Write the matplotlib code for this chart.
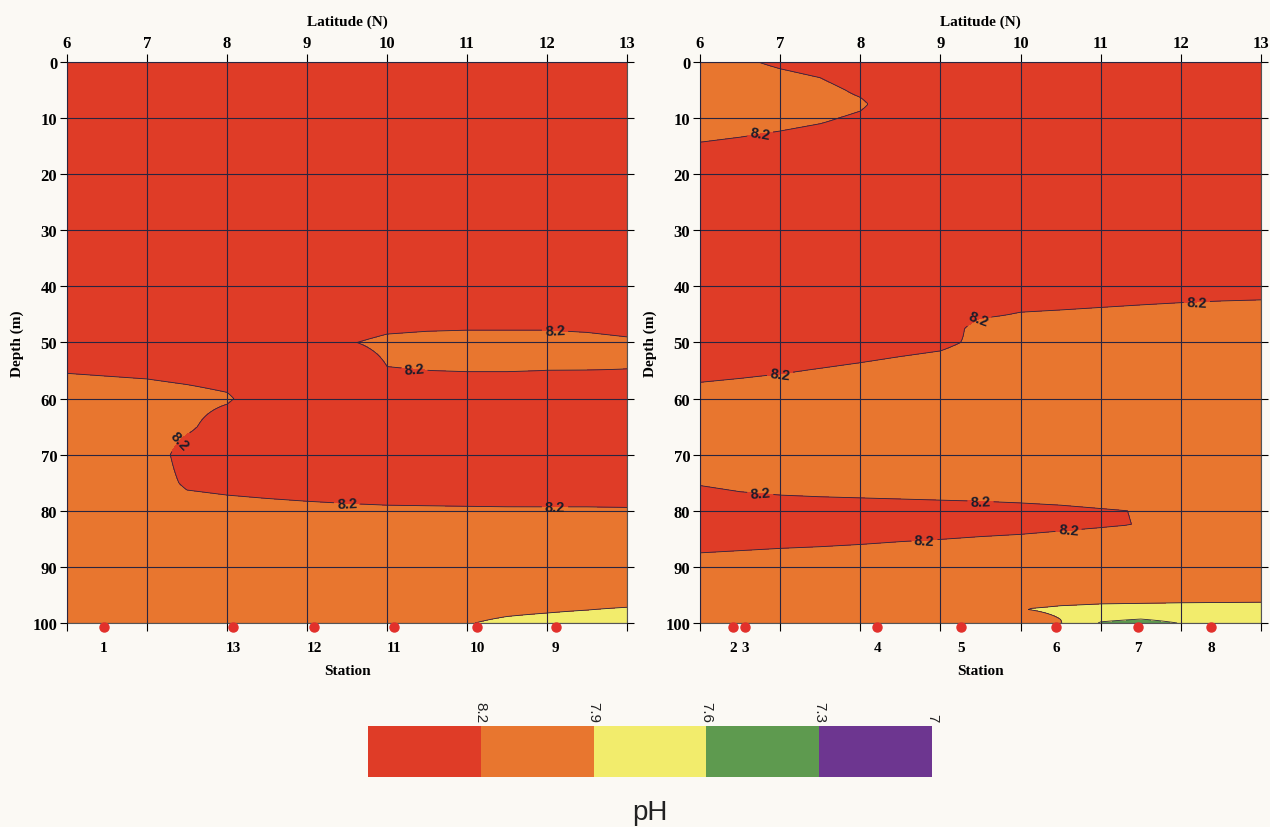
import numpy as np
import matplotlib.pyplot as plt

plt.rcParams['font.family'] = ['Liberation Sans', 'DejaVu Sans']

# latitude columns of the pH sections (deg N)
lats = [6, 6.5, 7, 7.5, 8, 8.5, 9, 9.5, 10, 10.5, 11, 11.5, 12, 12.5, 13]

# section A (stations 1, 13..9)
depths_a = [0, 20, 40, 45, 50, 55, 60, 65, 70, 75, 80, 85, 95, 100]
ph_a = [
    [8.3] * 15,
    [8.3] * 15,
    [8.3] * 15,
    [8.3, 8.3, 8.3, 8.3, 8.3, 8.3, 8.3, 8.3, 8.27, 8.26, 8.256, 8.256, 8.256, 8.264, 8.28],
    [8.3, 8.3, 8.3, 8.3, 8.3, 8.3, 8.3, 8.21, 8.17, 8.16, 8.156, 8.156, 8.156, 8.164, 8.18],
    [8.21, 8.22, 8.23, 8.25, 8.27, 8.3, 8.3, 8.3, 8.205, 8.2005, 8.196, 8.196, 8.2005, 8.2007, 8.2013],
    [8.11, 8.12, 8.13, 8.15, 8.18, 8.3, 8.3, 8.3, 8.3, 8.3, 8.296, 8.296, 8.3, 8.3, 8.3],
    [8.1, 8.1, 8.1, 8.172, 8.28, 8.3, 8.3, 8.3, 8.3, 8.3, 8.3, 8.3, 8.3, 8.3, 8.3],
    [8.1, 8.1, 8.1, 8.272, 8.3, 8.3, 8.3, 8.3, 8.3, 8.3, 8.3, 8.3, 8.3, 8.3, 8.3],
    [8.1, 8.1, 8.1, 8.226, 8.244, 8.256, 8.266, 8.274, 8.28, 8.282, 8.284, 8.284, 8.286, 8.286, 8.288],
    [8.1, 8.1, 8.1, 8.126, 8.144, 8.156, 8.166, 8.174, 8.18, 8.182, 8.184, 8.186, 8.186, 8.186, 8.188],
    [8.1] * 15,
    [8.1] * 15,
    [8.1] * 10 + [7.915, 7.84, 7.79, 7.73, 7.645],
]
station_lat_a = [6.46, 8.08, 9.09, 10.09, 11.13, 12.11]
station_names_a = ['1', '13', '12', '11', '10', '9']

# section B (stations 2..8)
depths_b = [0, 2.5, 5, 7.5, 10, 15, 20, 40, 45, 47.5, 50, 55, 60, 70, 75, 80, 82.5, 85, 90,
            95, 97.5, 100]
ph_b = [
    [8.15, 8.18, 8.224, 8.256, 8.3, 8.3, 8.3, 8.3, 8.3, 8.3, 8.3, 8.3, 8.3, 8.3, 8.3],
    [8.1, 8.14, 8.174, 8.206, 8.276, 8.3, 8.3, 8.3, 8.3, 8.3, 8.3, 8.3, 8.3, 8.3, 8.3],
    [8.1, 8.12, 8.124, 8.156, 8.226, 8.3, 8.3, 8.3, 8.3, 8.3, 8.3, 8.3, 8.3, 8.3, 8.3],
    [8.1, 8.1, 8.104, 8.13, 8.176, 8.3, 8.3, 8.3, 8.3, 8.3, 8.3, 8.3, 8.3, 8.3, 8.3],
    [8.114, 8.132, 8.154, 8.18, 8.224, 8.3, 8.3, 8.3, 8.3, 8.3, 8.3, 8.3, 8.3, 8.3, 8.3],
    [8.214, 8.232, 8.254, 8.28, 8.3, 8.3, 8.3, 8.3, 8.3, 8.3, 8.3, 8.3, 8.3, 8.3, 8.3],
    [8.3] * 15,
    [8.3] * 8 + [8.292, 8.284, 8.275, 8.266, 8.258, 8.252, 8.248],
    [8.3, 8.3, 8.3, 8.3, 8.3, 8.3, 8.3, 8.22, 8.192, 8.184, 8.175, 8.166, 8.158, 8.152, 8.148],
    [8.3, 8.3, 8.3, 8.3, 8.3, 8.3, 8.28, 8.147, 8.142, 8.134, 8.125, 8.116, 8.108, 8.102, 8.1],
    [8.3, 8.3, 8.3, 8.292, 8.272, 8.25, 8.23, 8.17, 8.1, 8.1, 8.1, 8.1, 8.1, 8.1, 8.1],
    [8.242, 8.228, 8.212, 8.192, 8.172, 8.15, 8.13, 8.1, 8.1, 8.1, 8.1, 8.1, 8.1, 8.1, 8.1],
    [8.142, 8.128, 8.112, 8.1, 8.1, 8.1, 8.1, 8.1, 8.1, 8.1, 8.1, 8.1, 8.1, 8.1, 8.1],
    [8.1] * 15,
    [8.19, 8.168, 8.156, 8.15, 8.146, 8.142, 8.138, 8.134, 8.128, 8.12, 8.108, 8.1, 8.1, 8.1, 8.1],
    [8.29, 8.268, 8.256, 8.25, 8.246, 8.242, 8.238, 8.234, 8.228, 8.22, 8.208, 8.196, 8.15, 8.12, 8.1],
    [8.3, 8.292, 8.284, 8.278, 8.27, 8.26, 8.252, 8.242, 8.234, 8.222, 8.21, 8.197, 8.15, 8.12, 8.1],
    [8.25, 8.242, 8.234, 8.228, 8.22, 8.21, 8.202, 8.192, 8.184, 8.172, 8.16, 8.14, 8.12, 8.1, 8.1],
    [8.15, 8.142, 8.134, 8.128, 8.12, 8.11, 8.1, 8.1, 8.1, 8.1, 8.1, 8.1, 8.1, 8.1, 8.1],
    [8.1] * 8 + [8.05, 8.0, 7.98, 7.975, 7.97, 7.97, 7.965],
    [8.1] * 8 + [7.903, 7.87, 7.855, 7.85, 7.845, 7.84, 7.84],
    [8.1] * 8 + [8.0, 7.91, 7.578, 7.503, 7.61, 7.75, 7.75],
]
station_lat_b = [6.41, 6.56, 8.21, 9.26, 10.44, 11.46, 12.38]
station_names_b = ['2', '3', '4', '5', '6', '7', '8']

ph_levels = [7.0, 7.3, 7.6, 7.9, 8.2, 8.5]
ph_colors = ['#6d3690', '#5e9a4f', '#f2ec6c', '#e8762f', '#df3c27']
bar_ticks = [8.2, 7.9, 7.6, 7.3, 7.0]
bar_labels = ['8.2', '7.9', '7.6', '7.3', '7']

line_color = '#2a2540'
serif = dict(family='Liberation Serif', weight='bold')


def refine(lat, dep, grid, nx=351, ny=501):
    # bilinear resampling of the section onto a finer mesh
    lat = np.asarray(lat, float)
    dep = np.asarray(dep, float)
    z = np.asarray(grid, float)
    xf = np.linspace(lat[0], lat[-1], nx)
    yf = np.linspace(dep[0], dep[-1], ny)
    cols = np.array([np.interp(yf, dep, z[:, j]) for j in range(len(lat))]).T
    zf = np.array([np.interp(xf, lat, row) for row in cols])
    return xf, yf, zf


def draw_section(ax, depths, ph, st_lat, st_names, label_pos):
    xf, yf, zf = refine(lats, depths, ph)
    cf = ax.contourf(xf, yf, zf, levels=ph_levels, colors=ph_colors)
    low = [lv for lv in [7.3, 7.6, 7.9] if zf.min() < lv]
    if low:
        ax.contour(xf, yf, zf, levels=low, colors=line_color, linewidths=0.6)
    cs = ax.contour(xf, yf, zf, levels=[8.2], colors=line_color, linewidths=0.6)
    txt = ax.clabel(cs, fmt='%.1f', fontsize=10.5, colors='#1c1c2a',
                    inline=True, inline_spacing=3, manual=label_pos)
    for t in txt:
        t.set_fontweight('bold')

    ax.set_xlim(6, 13)
    ax.set_ylim(100, 0)
    ax.set_xticks(range(6, 14))
    ax.set_yticks(range(0, 101, 10))
    ax.grid(True, color=line_color, linewidth=0.8)
    ax.set_axisbelow(False)
    for s in ax.spines.values():
        s.set_color('#555555')
        s.set_linewidth(0.8)

    ax.tick_params(axis='x', top=True, labeltop=True, bottom=True, labelbottom=False,
                   direction='out', length=6, width=0.8, pad=2, labelsize=12)
    ax.tick_params(axis='y', left=True, right=True, direction='out', length=5,
                   width=0.8, pad=2, labelsize=12)
    for lab in ax.get_xticklabels() + ax.get_yticklabels():
        lab.set_fontfamily('Liberation Serif')
        lab.set_fontweight('bold')
    ax.xaxis.set_label_position('top')
    ax.set_xlabel('Latitude (N)', fontsize=11, labelpad=7.5, **serif)
    ax.set_ylabel('Depth (m)', fontsize=11, labelpad=6, **serif)

    # station positions along the bottom
    sec = ax.secondary_xaxis('bottom')
    sec.set_xticks(st_lat, labels=st_names)
    sec.tick_params(length=0, pad=13, labelsize=11)
    for lab in sec.get_xticklabels():
        lab.set_fontfamily('Liberation Serif')
        lab.set_fontweight('bold')
    sec.spines['bottom'].set_visible(False)
    sec.set_xlabel('Station', fontsize=11, labelpad=7, **serif)
    ax.plot(st_lat, [100.7] * len(st_lat), 'o', color='#e2302b', ms=6.5,
            clip_on=False, zorder=6)
    return cf


fig = plt.figure(figsize=(12.7, 8.28), dpi=100, facecolor='#fbf9f4')
ax_a = fig.add_axes([0.0528, 0.2464, 0.4409, 0.6775])
ax_b = fig.add_axes([0.5512, 0.2464, 0.4417, 0.6775])

cf = draw_section(ax_a, depths_a, ph_a, station_lat_a, station_names_a,
                  [(12.1, 48.0), (10.35, 53.5), (7.4, 67.5), (9.5, 78.7), (12.1, 79.5)])
draw_section(ax_b, depths_b, ph_b, station_lat_b, station_names_b,
             [(6.75, 12.8), (9.5, 46.5), (12.2, 43.0), (7.0, 55.8),
              (6.75, 77.2), (9.5, 78.3), (10.6, 83.8), (8.8, 85.4)])

# pH colour key
cax = fig.add_axes([0.2898, 0.0604, 0.4441, 0.0616])
cb = fig.colorbar(cf, cax=cax, orientation='horizontal')
cb.outline.set_visible(False)
cax.invert_xaxis()
cb.set_ticks(bar_ticks)
cb.set_ticklabels(bar_labels)
cax.xaxis.set_ticks_position('top')
cax.tick_params(length=0, pad=3, labelsize=11, labelrotation=270, colors='#222222')
fig.text(0.5118, 0.018, 'pH', ha='center', va='center', fontsize=20, color='#222222')

fig.savefig('out.png', dpi=100, facecolor=fig.get_facecolor())
